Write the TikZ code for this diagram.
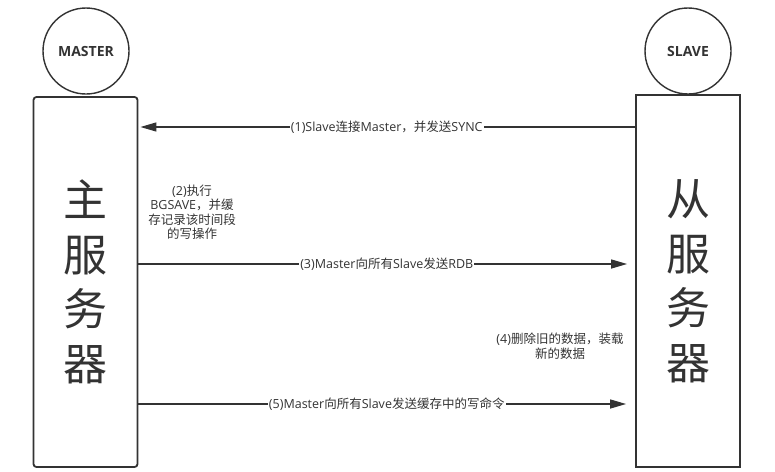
\documentclass[tikz,border=0pt]{standalone}
\usepackage{fontspec}
\setmainfont{Noto Sans CJK SC}
\newfontfamily\lat{Open Sans}
\newcommand{\en}[1]{{\lat\fontsize{12.5}{14.5}\selectfont #1}}
\usetikzlibrary{arrows.meta,positioning,calc}

\begin{document}
\begin{tikzpicture}[
    x=1pt, y=-1pt,
    role/.style={draw=black!80, line width=1.4pt, circle, minimum size=86pt, inner sep=0pt, font=\fontsize{14}{16}\selectfont\lat\bfseries, text=black!80},
    server/.style={draw=black!80, line width=1.8pt, minimum width=104pt, inner sep=0pt, align=center, font=\fontsize{44}{54.5}\selectfont, text=black!80},
    msg/.style={fill=white, inner sep=1pt, font=\fontsize{12.5}{14.5}\selectfont, text=black!80},
    note/.style={align=center, font=\fontsize{12.5}{14.5}\selectfont, text=black!80},
    arr/.style={-{Triangle[length=16pt,width=9pt]}, line width=1.3pt, draw=black!80}
]
\useasboundingbox (0,0) rectangle (775,471);

\node[role] (mcirc) at (86,51) {MASTER};
\node[role] (scirc) at (688,51) {SLAVE};

\node[server, rounded corners=3pt, minimum height=370pt] (mbox) at (85.5,282) {主\\服\\务\\器};
\node[server, minimum height=372pt] (sbox) at (688,281) {从\\服\\务\\器};

\coordinate (m1) at (mbox.east |- 0,127);
\coordinate (s1) at (sbox.west |- 0,127);
\coordinate (m3) at (mbox.east |- 0,264);
\coordinate (s3) at (sbox.west |- 0,264);
\coordinate (m5) at (mbox.east |- 0,404);
\coordinate (s5) at (sbox.west |- 0,404);

\draw[arr, shorten >=2pt] (s1) -- node[msg] {\en{(1)Slave}连接\en{Master}，并发送\en{SYNC}} (m1);
\draw[arr, shorten >=8pt] (m3) -- node[msg] {\en{(3)Master}向所有\en{Slave}发送\en{RDB}} (s3);
\draw[arr, shorten >=9pt] (m5) -- node[msg] {\en{(5)Master}向所有\en{Slave}发送缓存中的写命令} (s5);

\node[note] (bgsave) at (192,212) {\en{(2)}执行\\\en{BGSAVE}，并缓\\存记录该时间段\\的写操作};
\node[note] (reload) at (560,346) {\en{(4)}删除旧的数据，装载\\新的数据};
\end{tikzpicture}
\end{document}
